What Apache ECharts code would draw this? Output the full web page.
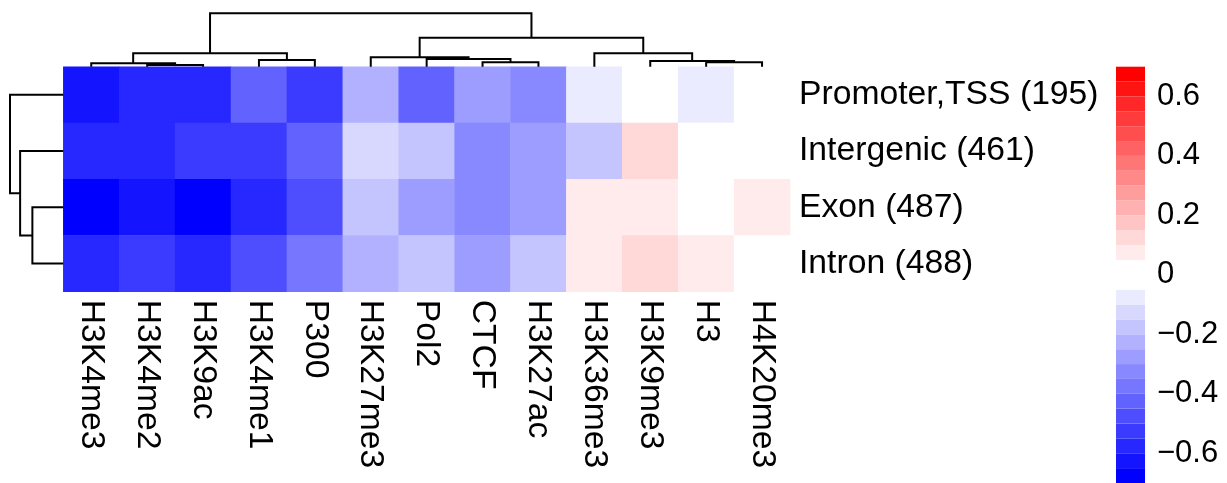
<!DOCTYPE html>
<html>
<head>
<meta charset="utf-8">
<script src="https://cdn.jsdelivr.net/npm/echarts@6/dist/echarts.min.js"></script>
<style>
    html, body { margin: 0; padding: 0; background: #fff; }
    #chart { width: 1227px; height: 483px; }
</style>
</head>
<body>
<div id="chart"></div>
<script>
// columns (histone marks) and rows (genomic regions), in dendrogram order
var marks = ['H3K4me3', 'H3K4me2', 'H3K9ac', 'H3K4me1', 'P300', 'H3K27me3', 'Pol2',
    'CTCF', 'H3K27ac', 'H3K36me3', 'H3K9me3', 'H3', 'H4K20me3'];
var regions = ['Promoter,TSS (195)', 'Intergenic (461)', 'Exon (487)', 'Intron (488)'];

// values per row
var promoterTSS = [-0.63, -0.58, -0.57, -0.43, -0.53, -0.23, -0.42, -0.28, -0.33, -0.08, 0.01, -0.07, 0.02];
var intergenic  = [-0.58, -0.57, -0.53, -0.52, -0.42, -0.13, -0.18, -0.33, -0.28, -0.17, 0.12, 0.03, 0.01];
var exon        = [-0.69, -0.62, -0.68, -0.58, -0.47, -0.17, -0.28, -0.32, -0.27, 0.07, 0.08, -0.02, 0.06];
var intron      = [-0.57, -0.53, -0.58, -0.48, -0.38, -0.22, -0.18, -0.28, -0.17, 0.08, 0.12, 0.07, 0.02];

// clustering (hclust style: negative = leaf in display order, positive = earlier merge)
var colMerge = [[-2, -3], [-1, 1], [-12, -13], [-8, -9], [-11, 3], [-4, -5],
    [-7, 4], [-6, 7], [2, 6], [-10, 5], [8, 10], [9, 11]];
var colHeight = [0.032, 0.064, 0.082, 0.082, 0.105, 0.125, 0.144, 0.176, 0.251, 0.251, 0.543, 1.0];
var rowMerge = [[-3, -4], [-2, 1], [-1, 2]];
var rowHeight = [0.58, 0.81, 1.0];

// colour key
var keyBreaks = [-0.7, -0.65, -0.6, -0.55, -0.5, -0.45, -0.4, -0.35, -0.3, -0.25, -0.2, -0.15, -0.1, -0.05,
    0, 0.05, 0.1, 0.15, 0.2, 0.25, 0.3, 0.35, 0.4, 0.45, 0.5, 0.55, 0.6, 0.65, 0.7];
var keyTicks = [-0.6, -0.4, -0.2, 0, 0.2, 0.4, 0.6];

var FONT = '"Liberation Sans", Arial, Helvetica, sans-serif';

function binColor(v) {
    var k = Math.floor(Math.abs(v) / 0.05 + 1e-9);
    var g = Math.round(255 - 255 * k / 13);
    return v > 0 ? 'rgb(255,' + g + ',' + g + ')' : 'rgb(' + g + ',' + g + ',255)';
}

// turn merges into U-shaped links [x1, h1, x2, h2, h]
function dendroLinks(merge, heights) {
    var pos = [], hgt = [], links = [];
    merge.forEach(function(m, i) {
        var xs = [], hs = [];
        m.forEach(function(c) {
            if (c < 0) { xs.push(-c - 0.5); hs.push(0); }
            else { xs.push(pos[c - 1]); hs.push(hgt[c - 1]); }
        });
        pos.push((xs[0] + xs[1]) / 2);
        hgt.push(heights[i]);
        links.push([xs[0], hs[0], xs[1], hs[1], heights[i]]);
    });
    return links;
}

var rows = [promoterTSS, intergenic, exon, intron];
var cells = [];
rows.forEach(function(r, ri) {
    r.forEach(function(v, ci) { cells.push([ci, ri, v]); });
});

var pieces = [], keyBins = [];
for (var i = 0; i < keyBreaks.length - 1; i++) {
    var lo = keyBreaks[i], hi = keyBreaks[i + 1];
    pieces.push({gte: lo, lt: hi, color: binColor((lo + hi) / 2)});
    keyBins.push([lo, hi]);
}

var lineStyle = {stroke: '#000', lineWidth: 2, fill: null};

var chart = echarts.init(document.getElementById('chart'));
chart.setOption({
    animation: false,
    backgroundColor: '#fff',
    textStyle: {fontFamily: FONT},
    grid: [
        {left: 63.3, top: 66.7, width: 726.7, height: 225},
        {left: 63.3, top: 13.3, width: 726.7, height: 53.4},
        {left: 10, top: 66.7, width: 53.3, height: 225},
        {left: 1116, top: 66.7, width: 29, height: 421}
    ],
    xAxis: [
        {
            type: 'category', gridIndex: 0, data: marks, position: 'bottom',
            axisLine: {show: false}, axisTick: {show: false}, splitLine: {show: false},
            axisLabel: {rotate: -90, fontSize: 33.7, color: '#000', margin: 8, fontFamily: FONT}
        },
        {type: 'value', gridIndex: 1, min: 0, max: marks.length, show: false},
        {type: 'value', gridIndex: 2, min: 0, max: 1, inverse: true, show: false},
        {type: 'value', gridIndex: 3, min: 0, max: 1, show: false}
    ],
    yAxis: [
        {
            type: 'category', gridIndex: 0, data: regions, inverse: true, position: 'right',
            axisLine: {show: false}, axisTick: {show: false}, splitLine: {show: false},
            axisLabel: {fontSize: 33.7, color: '#000', margin: 9, fontFamily: FONT}
        },
        {type: 'value', gridIndex: 1, min: 0, max: 1, show: false},
        {type: 'value', gridIndex: 2, min: 0, max: regions.length, inverse: true, show: false},
        {
            type: 'value', gridIndex: 3, min: -0.7, max: 0.7, position: 'right',
            axisLine: {show: false}, axisTick: {show: false}, splitLine: {show: false},
            axisLabel: {
                customValues: keyTicks, fontSize: 31, color: '#000', margin: 12, fontFamily: FONT,
                formatter: function(v) {
                    if (Math.abs(v) < 1e-9) return '0';
                    return (v < 0 ? '\u2212' : '') + Math.abs(v).toFixed(1);
                }
            }
        }
    ],
    visualMap: {
        type: 'piecewise', show: false, seriesIndex: 0, dimension: 2, pieces: pieces
    },
    series: [
        {
            type: 'heatmap', xAxisIndex: 0, yAxisIndex: 0, data: cells,
            itemStyle: {borderWidth: 0}, emphasis: {disabled: true}, progressive: 0
        },
        {
            type: 'custom', xAxisIndex: 1, yAxisIndex: 1, data: dendroLinks(colMerge, colHeight),
            silent: true,
            renderItem: function(params, api) {
                var pts = [
                    api.coord([api.value(0), api.value(1)]),
                    api.coord([api.value(0), api.value(4)]),
                    api.coord([api.value(2), api.value(4)]),
                    api.coord([api.value(2), api.value(3)])
                ];
                return {type: 'polyline', shape: {points: pts}, style: lineStyle};
            }
        },
        {
            type: 'custom', xAxisIndex: 2, yAxisIndex: 2, data: dendroLinks(rowMerge, rowHeight),
            silent: true,
            renderItem: function(params, api) {
                var pts = [
                    api.coord([api.value(1), api.value(0)]),
                    api.coord([api.value(4), api.value(0)]),
                    api.coord([api.value(4), api.value(2)]),
                    api.coord([api.value(3), api.value(2)])
                ];
                return {type: 'polyline', shape: {points: pts}, style: lineStyle};
            }
        },
        {
            type: 'custom', xAxisIndex: 3, yAxisIndex: 3, data: keyBins,
            silent: true,
            renderItem: function(params, api) {
                var lo = api.value(0), hi = api.value(1);
                var p0 = api.coord([0, hi]), p1 = api.coord([1, lo]);
                return {
                    type: 'rect',
                    shape: {x: p0[0], y: p0[1], width: p1[0] - p0[0], height: p1[1] - p0[1]},
                    style: {fill: binColor((lo + hi) / 2)}
                };
            }
        }
    ]
});
</script>
</body>
</html>
